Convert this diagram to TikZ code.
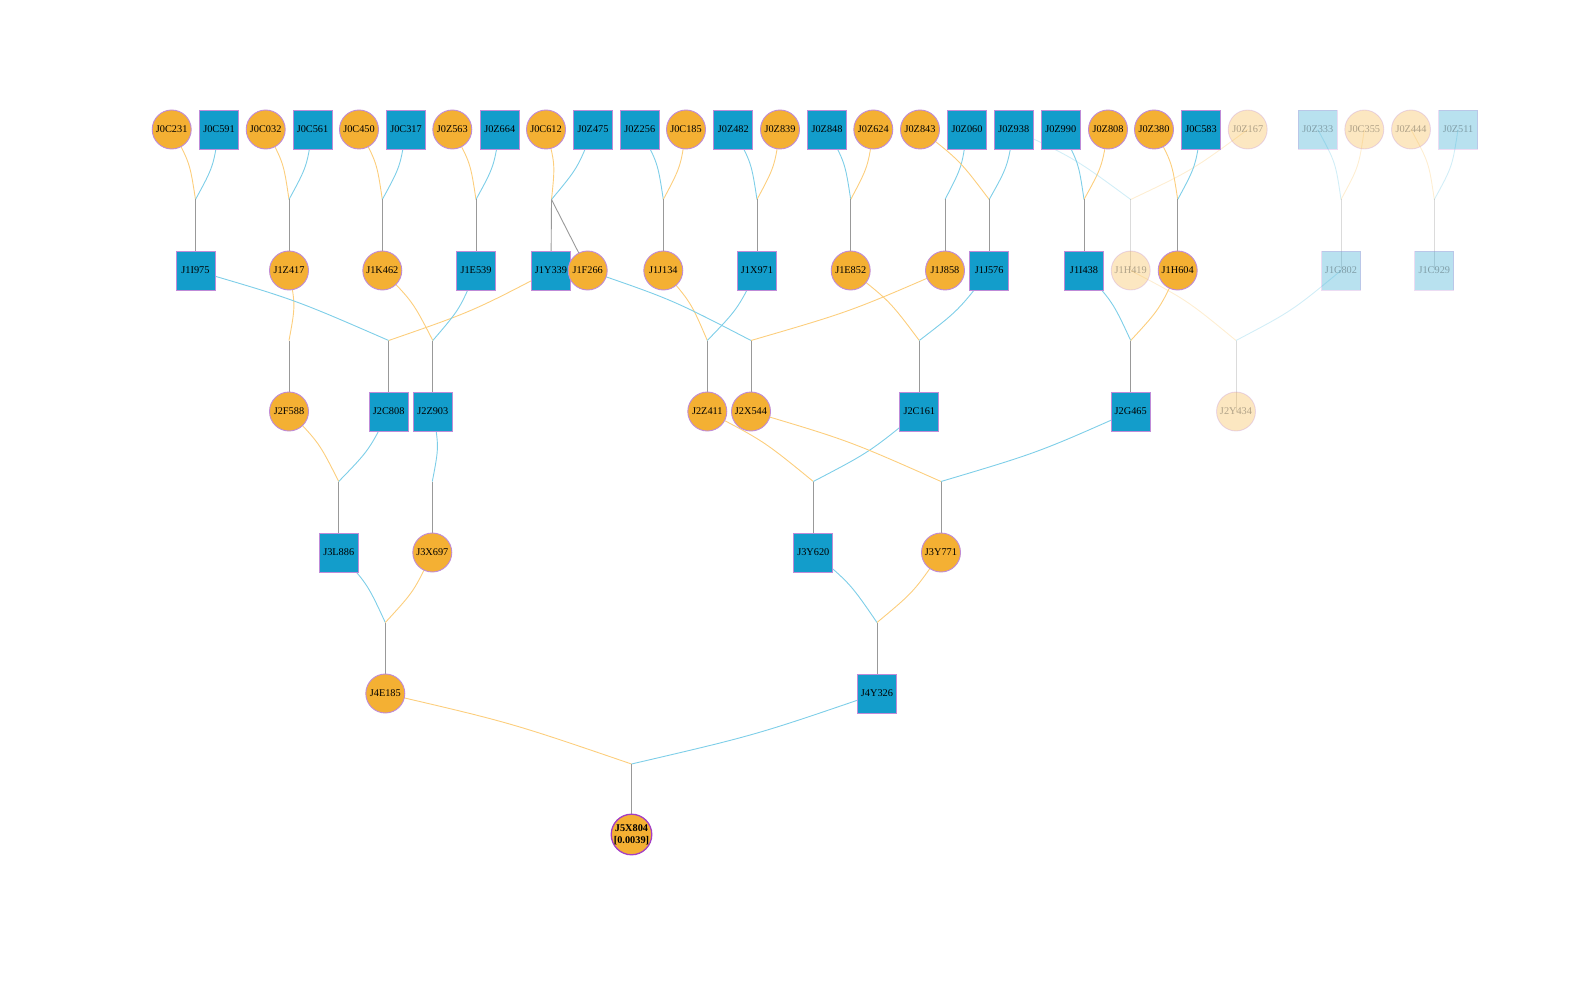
\documentclass[tikz,border=0pt]{standalone}
\usepackage{fontspec}
\setmainfont{Liberation Serif}
\usetikzlibrary{calc,backgrounds}
\definecolor{fo}{HTML}{F4B033}
\definecolor{ma}{HTML}{139DCB}
\definecolor{bd}{HTML}{BF8BD8}
\definecolor{bdx}{HTML}{A43FC4}
\definecolor{eo}{HTML}{FCCE7D}
\definecolor{eb}{HTML}{7ECEE8}
\definecolor{eg}{HTML}{999999}
\newcommand\pl[3]{\draw[#3] (#1.center) .. controls ($(#1.center)!0.5!(#2)!6.5pt!90:(#2)$) .. (#2);}
\begin{document}
\begin{tikzpicture}[x=1pt,y=-1pt,
 every node/.style={font=\fontsize{10.3}{12}\selectfont, text=black},
 fem/.style={circle, minimum size=39pt, inner sep=0pt, fill=fo, draw=bd, line width=0.9pt},
 mal/.style={rectangle, minimum size=39pt, inner sep=0pt, fill=ma, draw=bd, line width=0.9pt},
 faded/.style={opacity=0.3},
 oe/.style={draw=eo, line width=0.9pt},
 be/.style={draw=eb, line width=0.9pt},
 ge/.style={draw=eg, line width=0.9pt},
 fe/.style={opacity=0.35}]
\useasboundingbox (0,0) rectangle (1592,984);
% generation 0
\node[fem] (J0C231) at (171.7,129.5) {J0C231};
\node[mal] (J0C591) at (219,129.5) {J0C591};
\node[fem] (J0C032) at (265.7,129.5) {J0C032};
\node[mal] (J0C561) at (312.5,129.5) {J0C561};
\node[fem] (J0C450) at (359,129.5) {J0C450};
\node[mal] (J0C317) at (406,129.5) {J0C317};
\node[fem] (J0Z563) at (452.3,129.5) {J0Z563};
\node[mal] (J0Z664) at (499.7,129.5) {J0Z664};
\node[fem] (J0C612) at (546,129.5) {J0C612};
\node[mal] (J0Z475) at (593,129.5) {J0Z475};
\node[mal] (J0Z256) at (639.7,129.5) {J0Z256};
\node[fem] (J0C185) at (686,129.5) {J0C185};
\node[mal] (J0Z482) at (733.3,129.5) {J0Z482};
\node[fem] (J0Z839) at (780,129.5) {J0Z839};
\node[mal] (J0Z848) at (827,129.5) {J0Z848};
\node[fem] (J0Z624) at (873.3,129.5) {J0Z624};
\node[fem] (J0Z843) at (920,129.5) {J0Z843};
\node[mal] (J0Z060) at (967,129.5) {J0Z060};
\node[mal] (J0Z938) at (1013.7,129.5) {J0Z938};
\node[mal] (J0Z990) at (1060.7,129.5) {J0Z990};
\node[fem] (J0Z808) at (1108,129.5) {J0Z808};
\node[fem] (J0Z380) at (1154,129.5) {J0Z380};
\node[mal] (J0C583) at (1201,129.5) {J0C583};
\node[fem,faded] (J0Z167) at (1247.7,129.5) {J0Z167};
\node[mal,faded] (J0Z333) at (1317.8,129.5) {J0Z333};
\node[fem,faded] (J0C355) at (1364.3,129.5) {J0C355};
\node[fem,faded] (J0Z444) at (1411,129.5) {J0Z444};
\node[mal,faded] (J0Z511) at (1458,129.5) {J0Z511};
% generation 1
\node[mal] (J1I975) at (195.5,270.5) {J1I975};
\node[fem] (J1Z417) at (289,270.5) {J1Z417};
\node[fem] (J1K462) at (382.3,270.5) {J1K462};
\node[mal] (J1E539) at (476,270.5) {J1E539};
\node[mal] (J1Y339) at (551,270.5) {J1Y339};
\node[fem] (J1F266) at (587.7,270.5) {J1F266};
\node[fem] (J1J134) at (663.3,270.5) {J1J134};
\node[mal] (J1X971) at (757,270.5) {J1X971};
\node[fem] (J1E852) at (850.7,270.5) {J1E852};
\node[fem] (J1J858) at (945,270.5) {J1J858};
\node[mal] (J1J576) at (989.2,270.5) {J1J576};
\node[mal] (J1I438) at (1084,270.5) {J1I438};
\node[fem,faded] (J1H419) at (1130.7,270.5) {J1H419};
\node[fem] (J1H604) at (1177.7,270.5) {J1H604};
\node[mal,faded] (J1G802) at (1341,270.5) {J1G802};
\node[mal,faded] (J1C929) at (1434.3,270.5) {J1C929};
% generation 2
\node[fem] (J2F588) at (289,411.5) {J2F588};
\node[mal] (J2C808) at (388.7,411.5) {J2C808};
\node[mal] (J2Z903) at (432.8,411.5) {J2Z903};
\node[fem] (J2Z411) at (707.3,411.5) {J2Z411};
\node[fem] (J2X544) at (751,411.5) {J2X544};
\node[mal] (J2C161) at (919.3,411.5) {J2C161};
\node[mal] (J2G465) at (1130.7,411.5) {J2G465};
\node[fem,faded] (J2Y434) at (1236,411.5) {J2Y434};
% generation 3
\node[mal] (J3L886) at (338.7,552.5) {J3L886};
\node[fem] (J3X697) at (432.3,552.5) {J3X697};
\node[mal] (J3Y620) at (813.3,552.5) {J3Y620};
\node[fem] (J3Y771) at (941,552.5) {J3Y771};
% generation 4
\node[fem] (J4E185) at (385.3,693.5) {J4E185};
\node[mal] (J4Y326) at (877,693.5) {J4Y326};
% generation 5
\node[fem, draw=bdx, line width=1.3pt, align=center, font=\bfseries\fontsize{10.3}{12}\selectfont] (J5X804) at (631.5,834.5) {J5X804\\{[0.0039]}};
% junctions
\coordinate (jA) at (195.5,199.5);
\coordinate (jB) at (289,199.5);
\coordinate (jC) at (382.3,199.5);
\coordinate (jD) at (476,199.5);
\coordinate (jE) at (551.5,199.5);
\coordinate (jF) at (663.3,199.5);
\coordinate (jG) at (757,199.5);
\coordinate (jH) at (850.7,199.5);
\coordinate (jI) at (945,199.5);
\coordinate (jJ) at (989.2,199.5);
\coordinate (jK) at (1084,199.5);
\coordinate (jL) at (1130.7,199.5);
\coordinate (jM) at (1177.7,199.5);
\coordinate (jN) at (1341,199.5);
\coordinate (jO) at (1434.3,199.5);
\coordinate (kA) at (289,340.5);
\coordinate (kB) at (388.7,340.5);
\coordinate (kC) at (432.8,340.5);
\coordinate (kD) at (707.3,340.5);
\coordinate (kE) at (751,340.5);
\coordinate (kF) at (919.3,340.5);
\coordinate (kG) at (1130.7,340.5);
\coordinate (kH) at (1236,340.5);
\coordinate (lA) at (338.7,481.5);
\coordinate (lB) at (432.3,481.5);
\coordinate (lC) at (813.3,481.5);
\coordinate (lD) at (941,481.5);
\coordinate (mA) at (385.3,622.5);
\coordinate (mB) at (877,622.5);
\coordinate (nA) at (631.5,764);
\begin{pgfonlayer}{background}
% gen 0 -> 1
\pl{J0C231}{jA}{oe} \pl{J0C591}{jA}{be} \draw[ge] (jA) -- (J1I975.center);
\pl{J0C032}{jB}{oe} \pl{J0C561}{jB}{be} \draw[ge] (jB) -- (J1Z417.center);
\pl{J0C450}{jC}{oe} \pl{J0C317}{jC}{be} \draw[ge] (jC) -- (J1K462.center);
\pl{J0Z563}{jD}{oe} \pl{J0Z664}{jD}{be} \draw[ge] (jD) -- (J1E539.center);
\pl{J0C612}{jE}{oe} \pl{J0Z475}{jE}{be} \draw[ge] (jE) -- (J1Y339.center); \draw[ge] (jE) -- (J1F266.center);
\pl{J0Z256}{jF}{be} \pl{J0C185}{jF}{oe} \draw[ge] (jF) -- (J1J134.center);
\pl{J0Z482}{jG}{be} \pl{J0Z839}{jG}{oe} \draw[ge] (jG) -- (J1X971.center);
\pl{J0Z848}{jH}{be} \pl{J0Z624}{jH}{oe} \draw[ge] (jH) -- (J1E852.center);
\pl{J0Z060}{jI}{be} \draw[ge] (jI) -- (J1J858.center);
\pl{J0Z843}{jJ}{oe} \pl{J0Z938}{jJ}{be} \draw[ge] (jJ) -- (J1J576.center);
\pl{J0Z990}{jK}{be} \pl{J0Z808}{jK}{oe} \draw[ge] (jK) -- (J1I438.center);
\pl{J0Z938}{jL}{be,fe} \pl{J0Z167}{jL}{oe,fe} \draw[ge,fe] (jL) -- (J1H419.center);
\pl{J0Z380}{jM}{oe} \pl{J0C583}{jM}{be} \draw[ge] (jM) -- (J1H604.center);
\pl{J0Z333}{jN}{be,fe} \pl{J0C355}{jN}{oe,fe} \draw[ge,fe] (jN) -- (J1G802.center);
\pl{J0Z444}{jO}{oe,fe} \pl{J0Z511}{jO}{be,fe} \draw[ge,fe] (jO) -- (J1C929.center);
% gen 1 -> 2
\pl{J1Z417}{kA}{oe} \draw[ge] (kA) -- (J2F588.center);
\pl{J1I975}{kB}{be} \pl{J1Y339}{kB}{oe} \draw[ge] (kB) -- (J2C808.center);
\pl{J1K462}{kC}{oe} \pl{J1E539}{kC}{be} \draw[ge] (kC) -- (J2Z903.center);
\pl{J1J134}{kD}{oe} \pl{J1X971}{kD}{be} \draw[ge] (kD) -- (J2Z411.center);
\pl{J1F266}{kE}{be} \pl{J1J858}{kE}{oe} \draw[ge] (kE) -- (J2X544.center);
\pl{J1E852}{kF}{oe} \pl{J1J576}{kF}{be} \draw[ge] (kF) -- (J2C161.center);
\pl{J1I438}{kG}{be} \pl{J1H604}{kG}{oe} \draw[ge] (kG) -- (J2G465.center);
\pl{J1H419}{kH}{oe,fe} \pl{J1G802}{kH}{be,fe} \draw[ge,fe] (kH) -- (J2Y434.center);
% gen 2 -> 3
\pl{J2F588}{lA}{oe} \pl{J2C808}{lA}{be} \draw[ge] (lA) -- (J3L886.center);
\pl{J2Z903}{lB}{be} \draw[ge] (lB) -- (J3X697.center);
\pl{J2Z411}{lC}{oe} \pl{J2C161}{lC}{be} \draw[ge] (lC) -- (J3Y620.center);
\pl{J2X544}{lD}{oe} \pl{J2G465}{lD}{be} \draw[ge] (lD) -- (J3Y771.center);
% gen 3 -> 4
\pl{J3L886}{mA}{be} \pl{J3X697}{mA}{oe} \draw[ge] (mA) -- (J4E185.center);
\pl{J3Y620}{mB}{be} \pl{J3Y771}{mB}{oe} \draw[ge] (mB) -- (J4Y326.center);
% gen 4 -> 5
\pl{J4E185}{nA}{oe} \pl{J4Y326}{nA}{be} \draw[ge] (nA) -- (J5X804.center);
\end{pgfonlayer}
\end{tikzpicture}
\end{document}
